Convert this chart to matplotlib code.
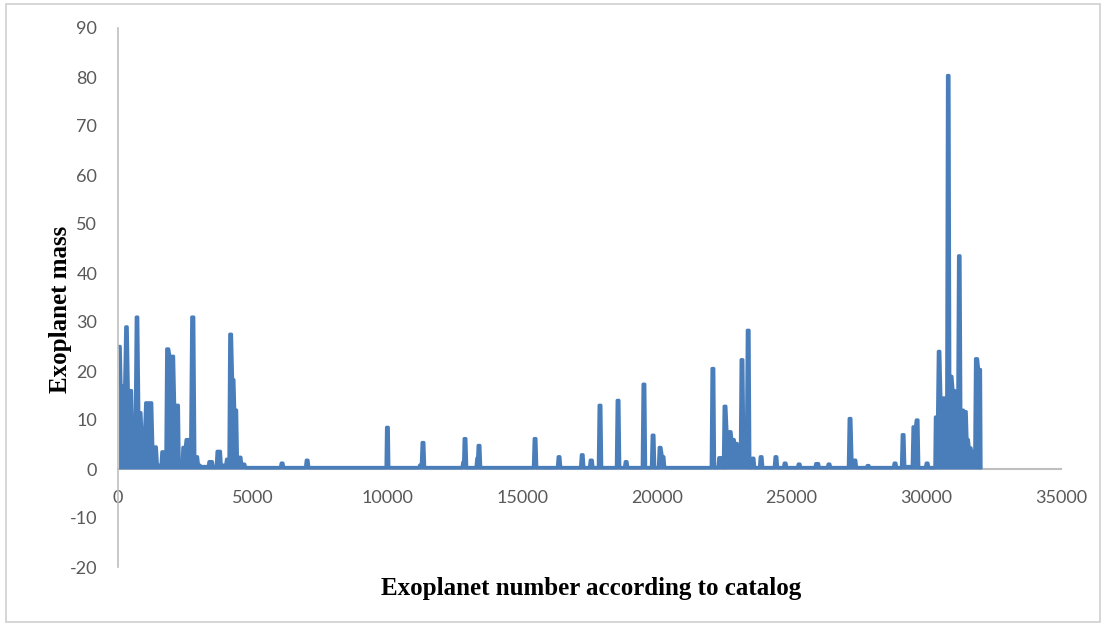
import matplotlib
matplotlib.use('Agg')
import matplotlib.pyplot as plt
from matplotlib.patches import Rectangle

# exoplanet catalog number and mass
catalog_no = [
    20, 80, 110, 250, 290, 340, 380, 500, 540, 640, 680, 730, 770, 850, 880, 990,
    1030, 1250, 1290, 1420, 1460, 1600, 1630, 1780, 1810, 1880, 1920, 2060, 2100, 2240,
    2270, 2380, 2410, 2500, 2530, 2700, 2740, 2810, 2850, 2950, 2980, 3100, 3350, 3380,
    3500, 3530, 3650, 3680, 3800, 3830, 4000, 4030, 4120, 4150, 4210, 4250, 4300, 4330,
    4400, 4430, 4560, 4590, 4700, 4740,
    6030, 6060, 6120, 6150, 6960, 6990, 7050, 7080,
    9950, 9970, 10030, 10050, 11170, 11200, 11260, 11290, 11350, 11380,
    12770, 12800, 12830, 12850, 12910, 12940, 13290, 13320, 13350, 13370, 13430, 13460,
    15420, 15450, 15510, 15540, 16310, 16340, 16400, 16430,
    17170, 17200, 17260, 17290, 17500, 17530, 17600, 17630,
    17830, 17860, 17920, 17950, 18500, 18530, 18590, 18620,
    18800, 18830, 18890, 18920, 19460, 19490, 19550, 19580,
    19800, 19830, 19890, 19920, 20060, 20090, 20150, 20200, 20260, 20290,
    22020, 22050, 22110, 22140, 22270, 22300, 22400, 22430,
    22470, 22500, 22560, 22600, 22750, 22780, 22870, 22890, 22980, 23010, 23100,
    23130, 23190, 23220, 23330, 23360, 23420, 23450,
    23510, 23540, 23600, 23630, 23810, 23840, 23900, 23930,
    24360, 24390, 24450, 24480, 24700, 24730, 24790, 24820,
    25220, 25250, 25310, 25340, 25870, 25900, 26000, 26030,
    26330, 26360, 26420, 26450, 27110, 27140, 27200, 27240, 27380, 27410,
    27780, 27810, 27870, 27900, 28780, 28810, 28870, 28900,
    29080, 29110, 29170, 29200, 29480, 29510, 29600, 29630, 29690, 29720,
    29970, 30000, 30060, 30090,
    30320, 30340, 30420, 30450, 30500, 30540, 30760, 30790, 30840, 30870, 30950,
    30990, 31060, 31090, 31170, 31200, 31250, 31280, 31380, 31410, 31480, 31510,
    31560, 31590, 31660, 31700, 31800, 31830, 31900, 31940, 32010, 32030,
]
mass = [
    25, 25, 17, 17, 29, 29, 16, 16, 7, 7, 31, 31, 11.5, 11.5, 7.5, 7.5,
    13.5, 13.5, 4.5, 4.5, 0.8, 0.8, 3.5, 3.5, 24.5, 24.5, 23, 23, 13, 13,
    0.6, 0.6, 4.4, 4.4, 6, 6, 31, 31, 2.5, 2.5, 1, 0.5, 0.5, 1.5,
    1.5, 0.5, 0.5, 3.6, 3.6, 0.8, 0.8, 2, 2, 27.5, 27.5, 18.2, 18.2, 12,
    12, 2.4, 2.4, 1, 1, 0.3,
    0.3, 1.2, 1.2, 0.3, 0.3, 1.8, 1.8, 0.3,
    0.3, 8.5, 8.5, 0.3, 0.3, 0.8, 0.8, 5.4, 5.4, 0.3,
    0.3, 1.4, 1.4, 6.2, 6.2, 0.3, 0.3, 2.2, 2.2, 4.8, 4.8, 0.3,
    0.3, 6.2, 6.2, 0.3, 0.3, 2.5, 2.5, 0.3,
    0.3, 2.9, 2.9, 0.3, 0.3, 1.8, 1.8, 0.3,
    0.3, 13, 13, 0.3, 0.3, 14, 14, 0.3,
    0.3, 1.5, 1.5, 0.3, 0.3, 17.3, 17.3, 0.3,
    0.3, 6.9, 6.9, 0.3, 0.3, 4.4, 4.4, 2.5, 2.5, 0.3,
    0.3, 20.5, 20.5, 0.3, 0.3, 2.3, 2.3, 0.3,
    0.3, 12.8, 12.8, 7.6, 7.6, 6, 6, 5.2, 5.2, 1.6, 1.6,
    22.3, 22.3, 6, 6, 28.3, 28.3, 0.3,
    0.3, 2.2, 2.2, 0.3, 0.3, 2.5, 2.5, 0.3,
    0.3, 2.5, 2.5, 0.3, 0.3, 1.2, 1.2, 0.3,
    0.3, 1, 1, 0.3, 0.3, 1.1, 1.1, 0.3,
    0.3, 1, 1, 0.3, 0.3, 10.3, 10.3, 1.8, 1.8, 0.3,
    0.3, 0.7, 0.7, 0.3, 0.3, 1.2, 1.2, 0.3,
    0.3, 7, 7, 0.5, 0.5, 8.6, 8.6, 10, 10, 0.3,
    0.3, 1.2, 1.2, 0.3,
    0.3, 10.6, 10.6, 24, 24, 14.5, 14.5, 80.3, 80.3, 18.9, 18.9,
    16, 16, 12.5, 12.5, 43.5, 43.5, 12, 12, 11.7, 11.7, 6,
    6, 4.3, 4.3, 3, 3, 22.5, 22.5, 20.3, 20.3, 0.3,
]

x_ticks = [0, 5000, 10000, 15000, 20000, 25000, 30000, 35000]
y_ticks = [-20, -10, 0, 10, 20, 30, 40, 50, 60, 70, 80, 90]

plt.rcParams['font.family'] = ['Lato', 'DejaVu Sans']
plt.rcParams['axes.unicode_minus'] = False
line_color = '#4a7ebb'
axis_grey = '#bfbfbf'
label_grey = '#595959'

fig = plt.figure(figsize=(11.04, 6.28), dpi=100)
fig.patches.append(Rectangle((0.005, 0.01), 0.991, 0.983, transform=fig.transFigure,
                             fill=False, edgecolor='#cfcfcf', linewidth=1.2))

ax = fig.add_axes([118 / 1104, 1 - 567 / 628, (1061 - 118) / 1104, (567 - 28) / 628])
ax.fill_between(catalog_no, mass, 0, color=line_color, linewidth=0)
ax.plot(catalog_no, mass, color=line_color, linewidth=2.4)

ax.set_xlim(0, 35000)
ax.set_ylim(-20, 90)
ax.set_xticks(x_ticks)
ax.set_yticks(y_ticks)

for s in ['top', 'right']:
    ax.spines[s].set_visible(False)
ax.spines['bottom'].set_position(('data', 0))
ax.spines['bottom'].set_color(axis_grey)
ax.spines['bottom'].set_linewidth(1.5)
ax.spines['bottom'].set_zorder(0)
ax.spines['left'].set_color(axis_grey)
ax.spines['left'].set_linewidth(1.2)

ax.tick_params(axis='x', length=0, pad=15, labelsize=13, labelcolor=label_grey)
ax.tick_params(axis='y', length=0, pad=15, labelsize=13, labelcolor=label_grey)

fig.text(591 / 1104, 1 - 588 / 628, 'Exoplanet number according to catalog',
         ha='center', va='center', fontsize=18, fontweight='bold',
         family='Liberation Serif')
fig.text(60 / 1104, 1 - 309 / 628, 'Exoplanet mass', rotation=90,
         ha='center', va='center', fontsize=18, fontweight='bold',
         family='Liberation Serif')

plt.savefig('out.png', dpi=100)
